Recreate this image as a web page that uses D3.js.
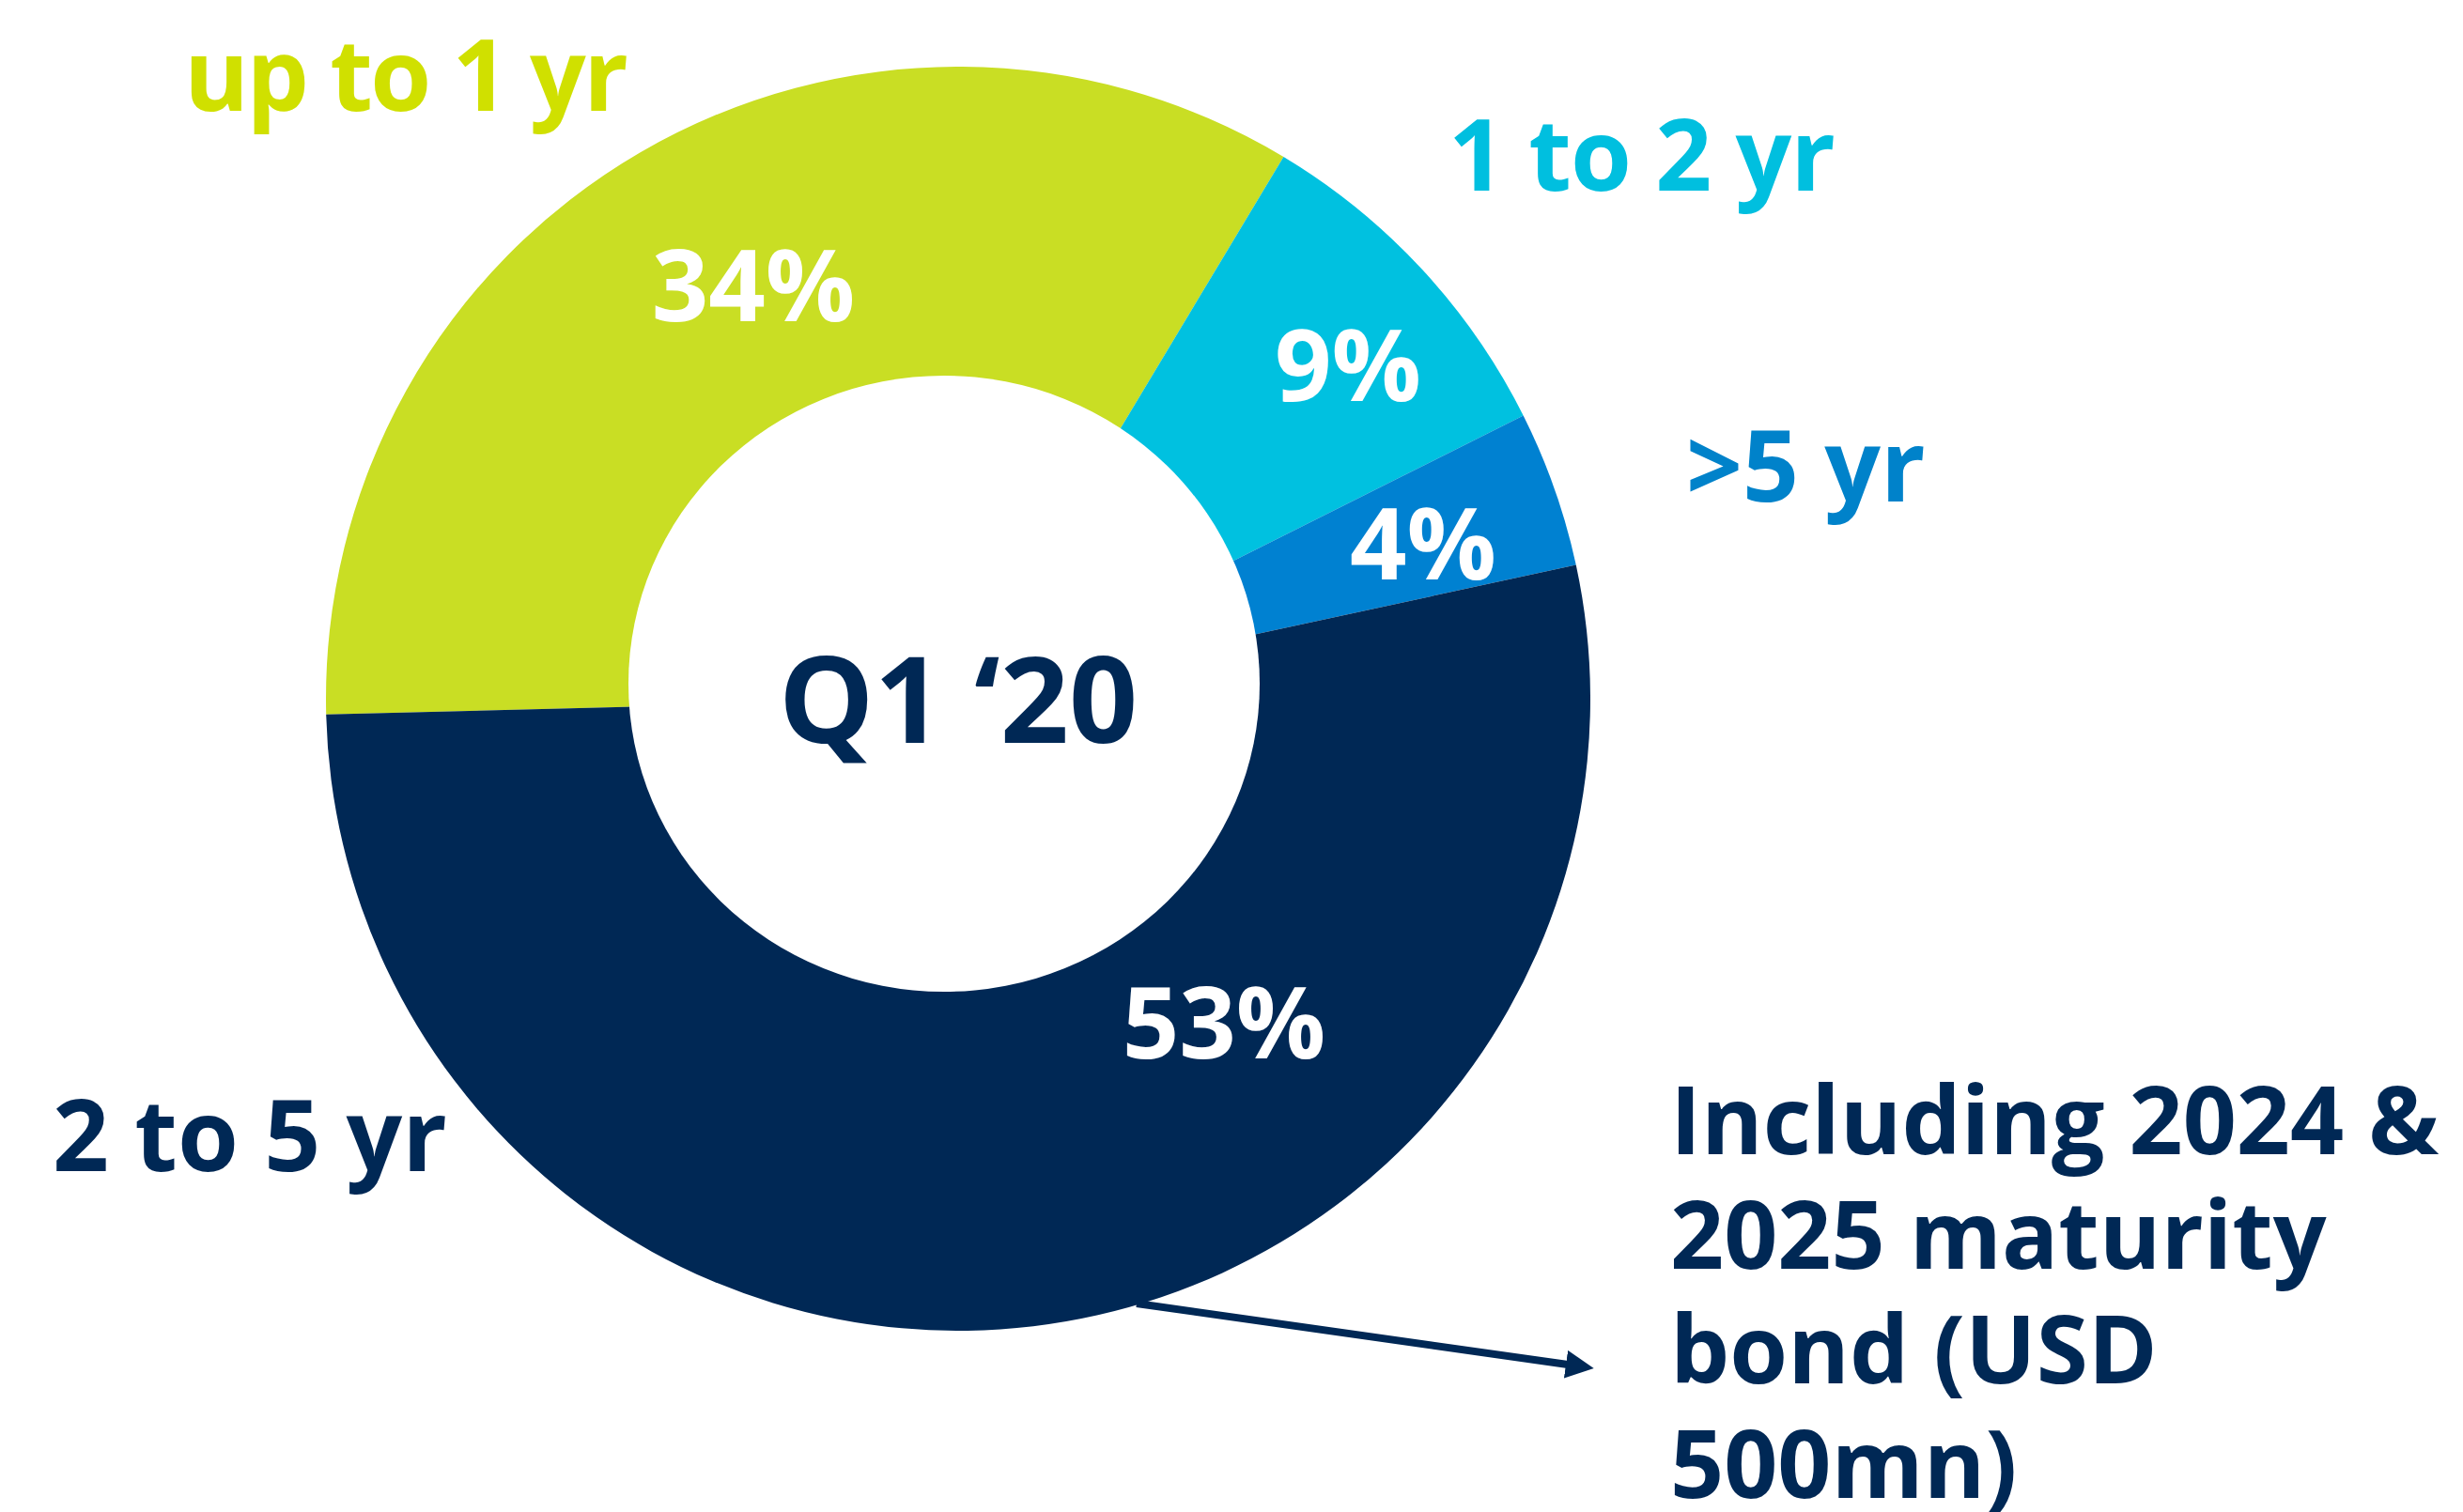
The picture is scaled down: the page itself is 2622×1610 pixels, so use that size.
<!DOCTYPE html>
<html>
<head>
<meta charset="utf-8">
<script src="https://cdn.jsdelivr.net/npm/d3@7"></script>
<style>
  html, body { margin: 0; padding: 0; background: #ffffff; }
  svg { display: block; }
  text { font-family: "Open Sans", "Noto Sans", sans-serif; font-weight: 700; }
</style>
</head>
<body>
<svg id="chart" width="2622" height="1610"></svg>
<script>
// Debt maturity profile, Q1 '20 (share of total, %)
const categories = ["up to 1 yr", "1 to 2 yr", ">5 yr", "2 to 5 yr"];
const shares = [34, 9, 4, 53];
const sliceColors = ["#c9de24", "#00c1e0", "#0081d1", "#002855"];
const labelColors = ["#d0e000", "#00bfdf", "#0082ca", "#002855"];
const centerTitle = "Q1 \u201820";
const noteLines = ["Including 2024 &", "2025 maturity", "bond (USD", "500mn)"];

// Layout
const W = 2622, H = 1610;
const cx = 1020, cy = 744, outerR = 673;
const hole = { cx: 1005, cy: 728, rx: 336, ry: 328 };
const startDeg = -91.42;
const catLabelPos = [
  { x: 196, y: 118, ls: -2.5 },
  { x: 1542, y: 203, ls: -1 },
  { x: 1795, y: 534, ls: 0 },
  { x: 56, y: 1247, ls: 0 }
];
const pctLabelPos = [
  { x: 802, y: 342 },
  { x: 1435, y: 427 },
  { x: 1515, y: 617 },
  { x: 1303, y: 1127 }
];
const catFont = 105, pctFont = 106, titleFont = 128, noteFont = 100, noteLead = 122;

const svg = d3.select("#chart");

const pie = d3.pie()
  .sort(null)
  .value(d => d)
  .startAngle(startDeg * Math.PI / 180)
  .endAngle(startDeg * Math.PI / 180 + 2 * Math.PI);

const arc = d3.arc().innerRadius(0).outerRadius(outerR);

const color = d3.scaleOrdinal().domain(categories).range(sliceColors);
const textColor = d3.scaleOrdinal().domain(categories).range(labelColors);

const arcs = pie(shares).map((a, i) => Object.assign(a, { cat: categories[i] }));

const g = svg.append("g").attr("transform", `translate(${cx},${cy})`);
g.selectAll("path.slice")
  .data(arcs)
  .enter().append("path")
  .attr("class", "slice")
  .attr("d", arc)
  .attr("fill", d => color(d.cat));

// white centre of the donut
svg.append("ellipse")
  .attr("cx", hole.cx).attr("cy", hole.cy)
  .attr("rx", hole.rx).attr("ry", hole.ry)
  .attr("fill", "#ffffff");

// centre title
svg.append("text")
  .attr("x", 1020).attr("y", 791)
  .attr("text-anchor", "middle")
  .attr("font-size", titleFont)
  .attr("fill", "#002855")
  .text(centerTitle);

// percentage labels on slices
svg.selectAll("text.pct")
  .data(arcs)
  .enter().append("text")
  .attr("class", "pct")
  .attr("x", (d, i) => pctLabelPos[i].x)
  .attr("y", (d, i) => pctLabelPos[i].y)
  .attr("text-anchor", "middle")
  .attr("font-size", pctFont)
  .attr("fill", "#ffffff")
  .text(d => d.data + "%");

// category labels
svg.selectAll("text.cat")
  .data(categories)
  .enter().append("text")
  .attr("class", "cat")
  .attr("x", (d, i) => catLabelPos[i].x)
  .attr("y", (d, i) => catLabelPos[i].y)
  .attr("letter-spacing", (d, i) => catLabelPos[i].ls)
  .attr("font-size", catFont)
  .attr("fill", d => textColor(d))
  .text(d => d);

// note arrow
const defs = svg.append("defs");
defs.append("marker")
  .attr("id", "arrowhead")
  .attr("markerUnits", "userSpaceOnUse")
  .attr("viewBox", "0 0 30 30")
  .attr("refX", 2).attr("refY", 15)
  .attr("markerWidth", 30).attr("markerHeight", 30)
  .attr("orient", "auto")
  .append("path")
  .attr("d", "M0,0 L30,15 L0,30 Z")
  .attr("fill", "#002855");

svg.append("line")
  .attr("x1", 1210).attr("y1", 1388)
  .attr("x2", 1669).attr("y2", 1453)
  .attr("stroke", "#002855")
  .attr("stroke-width", 8)
  .attr("marker-end", "url(#arrowhead)");

// note text
svg.append("g").selectAll("text.note")
  .data(noteLines)
  .enter().append("text")
  .attr("class", "note")
  .attr("x", 1778)
  .attr("y", (d, i) => 1229 + i * noteLead)
  .attr("font-size", noteFont)
  .attr("fill", "#002855")
  .text(d => d);
</script>
</body>
</html>
